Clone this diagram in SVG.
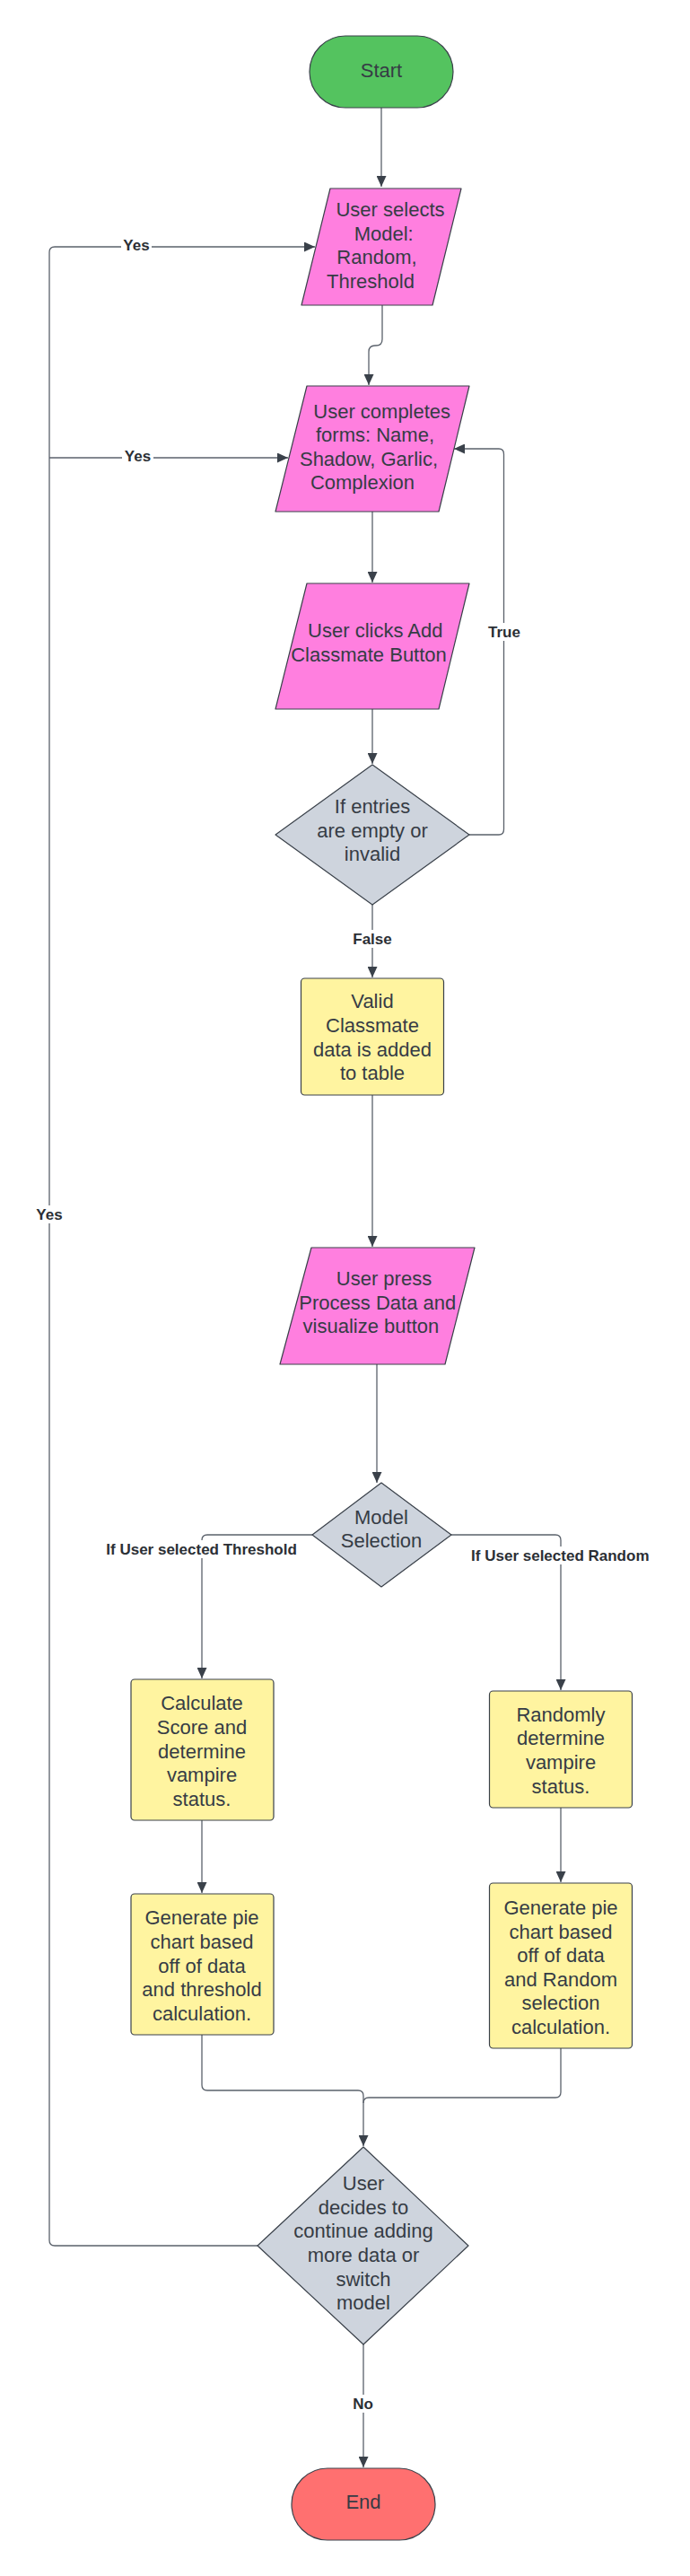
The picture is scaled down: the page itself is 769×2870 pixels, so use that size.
<svg xmlns="http://www.w3.org/2000/svg" width="769" height="2870" viewBox="0 0 769 2870">
<style>
.node{stroke:#3a414a;stroke-width:1.2;stroke-linejoin:round}
.green{fill:#54c35f}.pink{fill:#ff7fdf}.yellow{fill:#fff4a0}.gray{fill:#ced4dd}.red{fill:#ff7070}
.t{font-family:"Liberation Sans",Arial,sans-serif;font-size:22px;fill:#363c45;text-anchor:middle}
.lbl{font-family:"Liberation Sans",Arial,sans-serif;font-size:17px;font-weight:bold;fill:#2b2f35;text-anchor:middle}
.c{fill:none;stroke:#5a616b;stroke-width:1.3}
.bg{fill:#ffffff}
</style>
<defs>
<marker id="arr" markerUnits="userSpaceOnUse" markerWidth="12" markerHeight="11" refX="12" refY="5.5" orient="auto">
<path d="M0,0 L12,5.5 L0,11 z" fill="#3a414a"/>
</marker>
</defs>
<rect width="769" height="2870" fill="#ffffff"/>
<g id="connectors">
<path class="c" d="M425 120 V208" marker-end="url(#arr)"/>
<path class="c" d="M426 340 V378 Q426 385 419 385 H418 Q411 385 411 392 V429" marker-end="url(#arr)"/>
<path class="c" d="M415 570 V649" marker-end="url(#arr)"/>
<path class="c" d="M415 790 V851" marker-end="url(#arr)"/>
<path class="c" d="M523 930 H556 Q561.5 930 561.5 924 V506 Q561.5 500 556 500 H506" marker-end="url(#arr)"/>
<path class="c" d="M415 1008 V1089" marker-end="url(#arr)"/>
<path class="c" d="M415 1220 V1389" marker-end="url(#arr)"/>
<path class="c" d="M420 1520 V1652" marker-end="url(#arr)"/>
<path class="c" d="M348 1710 H231 Q225 1710 225 1716 V1870" marker-end="url(#arr)"/>
<path class="c" d="M503 1710 H619 Q625 1710 625 1716 V1883" marker-end="url(#arr)"/>
<path class="c" d="M225 2028 V2109" marker-end="url(#arr)"/>
<path class="c" d="M625 2014 V2097" marker-end="url(#arr)"/>
<path class="c" d="M225 2267 V2323 Q225 2329 231 2329 H399 Q405 2329 405 2335 V2391" marker-end="url(#arr)"/>
<path class="c" d="M625 2282 V2331 Q625 2337 619 2337 H411 Q405 2337 405 2343"/>
<path class="c" d="M405 2612 V2749" marker-end="url(#arr)"/>
<path class="c" d="M287 2502 H61 Q55 2502 55 2496 V281 Q55 275 61 275 H351" marker-end="url(#arr)"/>
<path class="c" d="M55 510 H321" marker-end="url(#arr)"/>
<rect class="bg" x="135" y="265" width="34" height="18"/>
<text class="lbl" x="152" y="279">Yes</text>
<rect class="bg" x="136" y="500" width="35" height="18"/>
<text class="lbl" x="153.5" y="514">Yes</text>
<rect class="bg" x="541" y="694" width="42" height="20"/>
<text class="lbl" x="562" y="710">True</text>
<rect class="bg" x="391" y="1036" width="48" height="20"/>
<text class="lbl" x="415" y="1052">False</text>
<rect class="bg" x="38" y="1343" width="34" height="20"/>
<text class="lbl" x="55" y="1359">Yes</text>
<rect class="bg" x="112" y="1716" width="226" height="20"/>
<text class="lbl" x="224.6" y="1732">If User selected Threshold</text>
<rect class="bg" x="519" y="1723" width="210" height="20"/>
<text class="lbl" x="624.3" y="1739">If User selected Random</text>
<rect class="bg" x="391" y="2668" width="28" height="20"/>
<text class="lbl" x="404.6" y="2684">No</text>
</g>
<g id="start">
<rect class="node green" x="345" y="40" width="160" height="80" rx="40" ry="40"/>
<text class="t" x="425" y="86">Start</text>
</g>
<g id="select-model">
<polygon class="node pink" points="368,210 514,210 482,340 336,340"/>
<text class="t"><tspan x="435" y="241">User selects</tspan><tspan x="427.7" y="267.5">Model:</tspan><tspan x="420" y="294">Random,</tspan><tspan x="413" y="320.5">Threshold</tspan></text>
</g>
<g id="complete-forms">
<polygon class="node pink" points="342,430 523,430 489,570 307,570"/>
<text class="t"><tspan x="425.7" y="465.5">User completes</tspan><tspan x="418" y="492">forms: Name,</tspan><tspan x="411" y="518.5">Shadow, Garlic,</tspan><tspan x="404" y="545">Complexion</tspan></text>
</g>
<g id="add-classmate">
<polygon class="node pink" points="342,650 523,650 489,790 307,790"/>
<text class="t"><tspan x="418.3" y="710">User clicks Add</tspan><tspan x="411" y="736.5">Classmate Button</tspan></text>
</g>
<g id="check-entries">
<polygon class="node gray" points="415,852 523,930 415,1008 307,930"/>
<text class="t"><tspan x="415" y="906">If entries</tspan><tspan x="415" y="932.5">are empty or</tspan><tspan x="415" y="959">invalid</tspan></text>
</g>
<g id="valid-data">
<rect class="node yellow" x="335.5" y="1090" width="159" height="130" rx="4"/>
<text class="t"><tspan x="415" y="1123">Valid</tspan><tspan x="415" y="1150">Classmate</tspan><tspan x="415" y="1176.5">data is added</tspan><tspan x="415" y="1203">to table</tspan></text>
</g>
<g id="process-data">
<polygon class="node pink" points="347,1390 529,1390 496,1520 312,1520"/>
<text class="t"><tspan x="428" y="1432">User press</tspan><tspan x="420.8" y="1458.5">Process Data and</tspan><tspan x="413.4" y="1485">visualize button</tspan></text>
</g>
<g id="model-selection">
<polygon class="node gray" points="425,1652 503,1710 425,1768 348,1710"/>
<text class="t"><tspan x="425" y="1697.5">Model</tspan><tspan x="425" y="1723.5">Selection</tspan></text>
</g>
<g id="calc-score">
<rect class="node yellow" x="146" y="1871" width="159" height="157" rx="4"/>
<text class="t"><tspan x="225" y="1905">Calculate</tspan><tspan x="225" y="1932">Score and</tspan><tspan x="225" y="1958.5">determine</tspan><tspan x="225" y="1985">vampire</tspan><tspan x="225" y="2012">status.</tspan></text>
</g>
<g id="pie-threshold">
<rect class="node yellow" x="146" y="2110" width="159" height="157" rx="4"/>
<text class="t"><tspan x="225" y="2144">Generate pie</tspan><tspan x="225" y="2171">chart based</tspan><tspan x="225" y="2197.5">off of data</tspan><tspan x="225" y="2224">and threshold</tspan><tspan x="225" y="2250.5">calculation.</tspan></text>
</g>
<g id="random-status">
<rect class="node yellow" x="545.5" y="1884" width="159" height="130" rx="4"/>
<text class="t"><tspan x="625" y="1917.5">Randomly</tspan><tspan x="625" y="1944">determine</tspan><tspan x="625" y="1971">vampire</tspan><tspan x="625" y="1997.5">status.</tspan></text>
</g>
<g id="pie-random">
<rect class="node yellow" x="545.5" y="2098" width="159" height="184" rx="4"/>
<text class="t"><tspan x="625" y="2133">Generate pie</tspan><tspan x="625" y="2159.5">chart based</tspan><tspan x="625" y="2186">off of data</tspan><tspan x="625" y="2213">and Random</tspan><tspan x="625" y="2239">selection</tspan><tspan x="625" y="2266">calculation.</tspan></text>
</g>
<g id="continue-decision">
<polygon class="node gray" points="405,2392 522,2502 405,2612 287,2502"/>
<text class="t"><tspan x="405" y="2440">User</tspan><tspan x="405" y="2466.5">decides to</tspan><tspan x="405" y="2493">continue adding</tspan><tspan x="405" y="2520">more data or</tspan><tspan x="405" y="2546.5">switch</tspan><tspan x="405" y="2573">model</tspan></text>
</g>
<g id="end">
<rect class="node red" x="325" y="2750" width="160" height="80" rx="40" ry="40"/>
<text class="t" x="405" y="2795">End</text>
</g>
</svg>
